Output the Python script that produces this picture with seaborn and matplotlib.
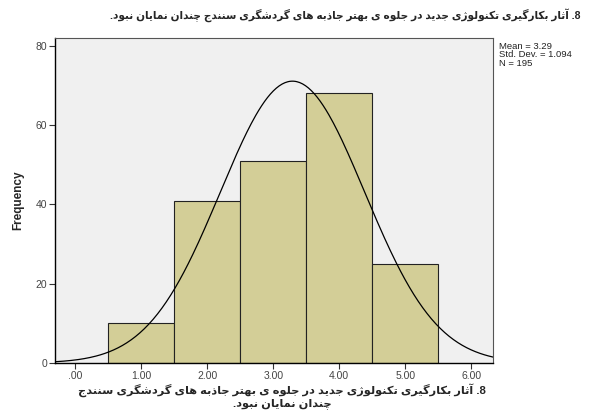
import numpy as np
import pandas as pd
import seaborn as sns
import matplotlib.pyplot as plt

# histogram data
categories = [1, 2, 3, 4, 5]
counts = [10, 41, 51, 68, 25]
mean_val = 3.29
sd_val = 1.094
n_val = 195
xticks = [0, 1, 2, 3, 4, 5, 6]
xtick_labels = ['.00', '1.00', '2.00', '3.00', '4.00', '5.00', '6.00']
yticks = [0, 20, 40, 60, 80]

title_txt = '8. آثار بکارگیری تکنولوژی جدید در جلوه ی بهتر جاذبه های گردشگری سنندج چندان نمایان نبود.'
xlab_line1 = '8. آثار بکارگیری تکنولوژی جدید در جلوه ی بهتر جاذبه های گردشگری سنندج'
xlab_line2 = 'چندان نمایان نبود.'

# contextual forms: isolated, final, initial, medial (matplotlib does no arabic shaping)
forms = {
    'آ': ('\uFE81', '\uFE82', None, None),
    'ا': ('\uFE8D', '\uFE8E', None, None),
    'ب': ('\uFE8F', '\uFE90', '\uFE91', '\uFE92'),
    'ت': ('\uFE95', '\uFE96', '\uFE97', '\uFE98'),
    'ث': ('\uFE99', '\uFE9A', '\uFE9B', '\uFE9C'),
    'ج': ('\uFE9D', '\uFE9E', '\uFE9F', '\uFEA0'),
    'د': ('\uFEA9', '\uFEAA', None, None),
    'ذ': ('\uFEAB', '\uFEAC', None, None),
    'ر': ('\uFEAD', '\uFEAE', None, None),
    'س': ('\uFEB1', '\uFEB2', '\uFEB3', '\uFEB4'),
    'ش': ('\uFEB5', '\uFEB6', '\uFEB7', '\uFEB8'),
    'ل': ('\uFEDD', '\uFEDE', '\uFEDF', '\uFEE0'),
    'م': ('\uFEE1', '\uFEE2', '\uFEE3', '\uFEE4'),
    'ن': ('\uFEE5', '\uFEE6', '\uFEE7', '\uFEE8'),
    'ه': ('\uFEE9', '\uFEEA', '\uFEEB', '\uFEEC'),
    'و': ('\uFEED', '\uFEEE', None, None),
    'ژ': ('\uFB8A', '\uFB8B', None, None),
    'چ': ('\uFB7A', '\uFB7B', '\uFB7C', '\uFB7D'),
    'ک': ('\uFB8E', '\uFB8F', '\uFB90', '\uFB91'),
    'گ': ('\uFB92', '\uFB93', '\uFB94', '\uFB95'),
    'ی': ('\uFBFC', '\uFBFD', '\uFBFE', '\uFBFF'),
}


def rtl(s):
    out = []
    for i, c in enumerate(s):
        if c not in forms:
            out.append(c)
            continue
        prev = s[i - 1] if i > 0 else ''
        nxt = s[i + 1] if i + 1 < len(s) else ''
        join_prev = prev in forms and forms[prev][2] is not None
        join_next = forms[c][2] is not None and nxt in forms
        iso, fin, ini, med = forms[c]
        if join_prev and join_next:
            out.append(med)
        elif join_prev:
            out.append(fin)
        elif join_next:
            out.append(ini)
        else:
            out.append(iso)
    return ''.join(out)[::-1]


df = pd.DataFrame({'value': categories, 'count': counts})
xs = np.linspace(-0.31, 6.33, 300)
ys = n_val * 1.0 / (sd_val * np.sqrt(2 * np.pi)) * np.exp(-0.5 * ((xs - mean_val) / sd_val) ** 2)
curve = pd.DataFrame({'x': xs, 'y': ys})

sns.set_style('white')
plt.rcParams['font.family'] = ['Liberation Sans', 'DejaVu Sans']

fig = plt.figure(figsize=(5.97, 4.13), dpi=100)
ax = fig.add_axes([55 / 597, 1 - 363 / 413, (493 - 55) / 597, (363 - 38) / 413])
ax.set_facecolor('#F0F0F0')

sns.histplot(data=df, x='value', weights='count', discrete=True, color='#D3CE97',
             alpha=1, edgecolor='#222222', linewidth=0.8, ax=ax)
sns.lineplot(data=curve, x='x', y='y', color='black', linewidth=0.9, ax=ax)

ax.set_xlim(-0.31, 6.33)
ax.set_ylim(0, 82)
ax.set_xticks(xticks)
ax.set_xticklabels(xtick_labels, fontsize=7.5, color='#444444')
ax.set_yticks(yticks)
ax.set_yticklabels([str(v) for v in yticks], fontsize=7.5, color='#444444')
ax.tick_params(axis='both', direction='out', length=4, width=0.8, color='#333333', pad=1.5)
ax.tick_params(axis='y', left=True)
ax.tick_params(axis='x', bottom=True)
ax.set_xlabel('')
ax.set_ylabel('')
for side in ['left', 'bottom']:
    ax.spines[side].set_color('black')
    ax.spines[side].set_linewidth(1.0)
for side in ['top', 'right']:
    ax.spines[side].set_color('#555555')
    ax.spines[side].set_linewidth(0.8)

fig.text(18 / 597, 1 - 200 / 413, 'Frequency', rotation=90, ha='center', va='center',
         fontsize=8.5, fontweight='bold')
fig.text(499 / 597, 1 - 42 / 413, 'Mean = 3.29\nStd. Dev. = 1.094\nN = 195', ha='left', va='top',
         fontsize=6.8, linespacing=0.9, color='#222222')
fig.text(580 / 597, 1 - 15 / 413, rtl(title_txt), ha='right', va='center',
         fontsize=7.6, fontweight='bold')
fig.text(282 / 597, 1 - 390 / 413, rtl(xlab_line1), ha='center', va='center',
         fontsize=8.2, fontweight='bold')
fig.text(282 / 597, 1 - 404 / 413, rtl(xlab_line2), ha='center', va='center',
         fontsize=8.2, fontweight='bold')

fig.savefig('out.png', dpi=100)
